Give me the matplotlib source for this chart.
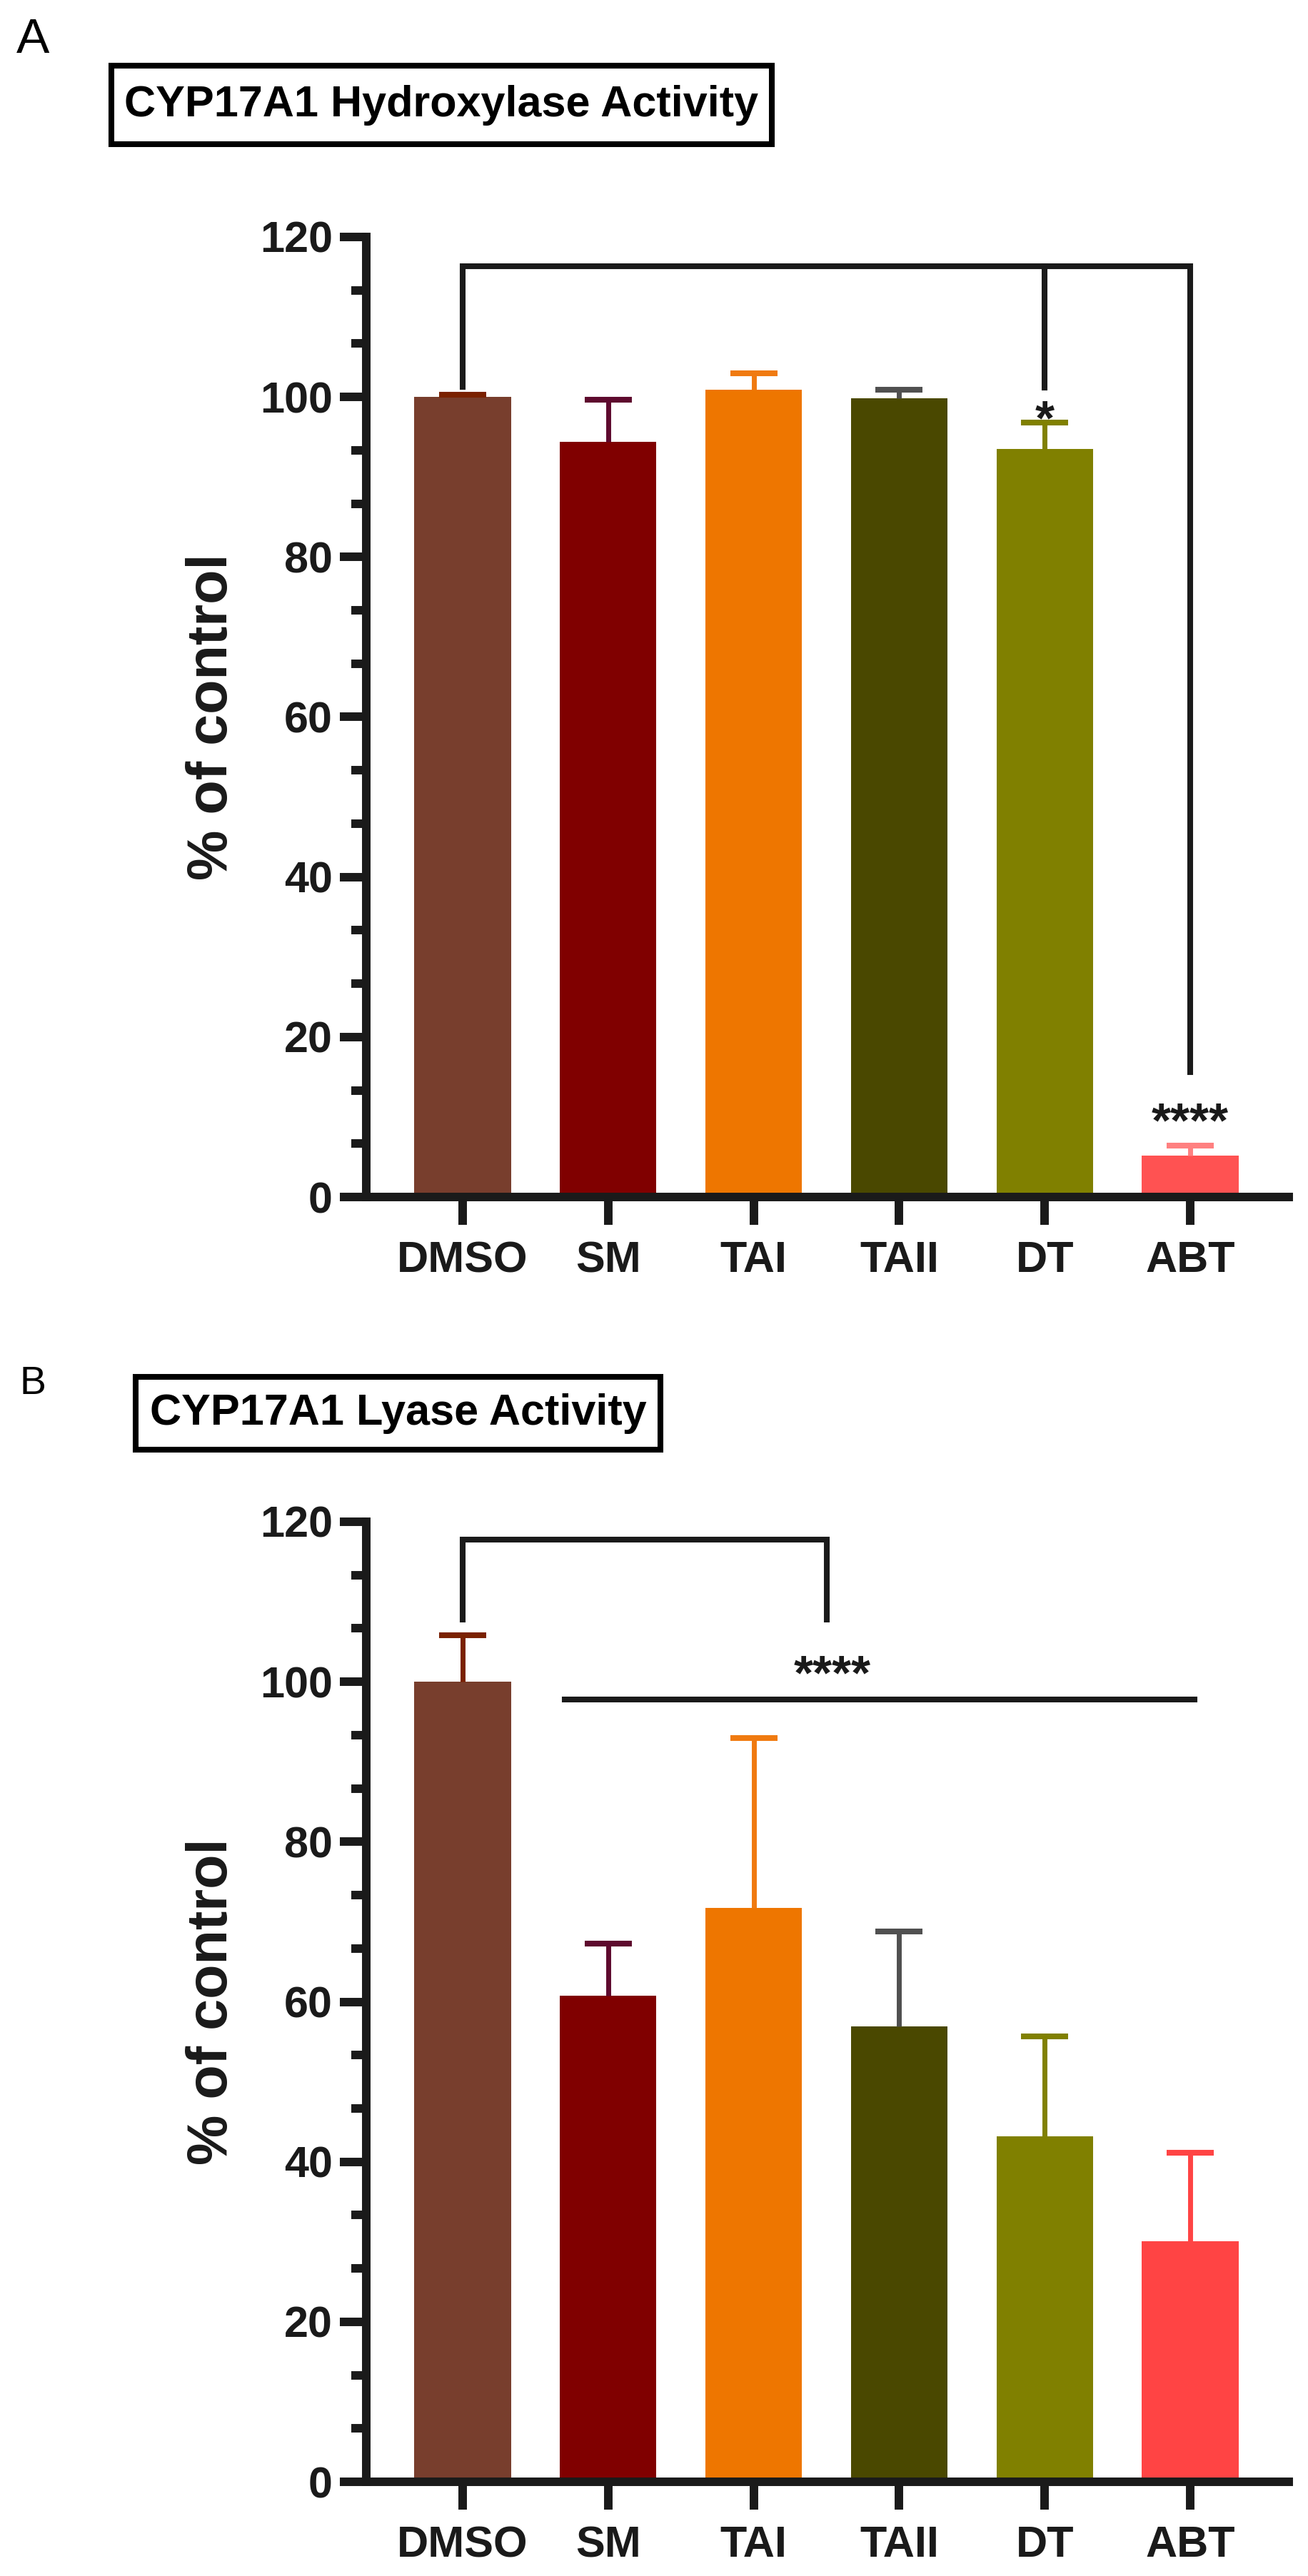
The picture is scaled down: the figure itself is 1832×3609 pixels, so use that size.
import matplotlib
matplotlib.use("Agg")
import matplotlib.pyplot as plt
from matplotlib.patches import Rectangle
from matplotlib.ticker import MultipleLocator, FixedLocator

plt.rcParams['font.family'] = ['Liberation Sans', 'DejaVu Sans']

# ---- data ----
groups = ["DMSO", "SM", "TAI", "TAII", "DT", "ABT"]

hydrox_mean = [100.0, 94.4, 100.9, 99.8, 93.5, 5.15]
hydrox_top = [100.3, 99.7, 103.0, 100.9, 96.8, 6.4]     # mean + error

lyase_mean = [100.0, 60.8, 71.7, 56.9, 43.2, 30.1]
lyase_top = [105.8, 67.3, 93.0, 68.8, 55.7, 41.1]

bar_cols_a = ["#783E2D", "#800000", "#EE7600", "#4A4800", "#808000", "#FF5252"]
err_cols_a = ["#7A2100", "#5E0A2E", "#F07A10", "#505050", "#808000", "#FF8080"]
bar_cols_b = ["#783E2D", "#800000", "#EE7600", "#4A4800", "#808000", "#FF4444"]
err_cols_b = ["#7A2100", "#5E0A2E", "#F07A10", "#505050", "#808000", "#FF4444"]

INK = "#1a1a1a"
W, H = 1833, 3609


def fx(px):
    return px / W


def fy(py):
    return 1 - py / H


def make_axes(fig, top_px, bottom_px):
    left, right = 513, 1805
    ax = fig.add_axes([fx(left), fy(bottom_px), (right - left) / W, (bottom_px - top_px) / H])
    return ax


def bar_panel(ax, means, tops, bcols, ecols):
    x = list(range(len(groups)))
    ax.bar(x, means, width=0.663, color=bcols, zorder=1)
    for i in x:
        _, caps, _ = ax.errorbar(i, means[i], yerr=[[0], [tops[i] - means[i]]], fmt='none',
                                 ecolor=ecols[i], elinewidth=5, capsize=24, capthick=5.8,
                                 zorder=2)
        caps[0].set_visible(False)   # only the upper cap is shown
    ax.set_xlim(-0.6624, 5.677)
    ax.set_ylim(0, 120)
    for s in ["top", "right"]:
        ax.spines[s].set_visible(False)
    for s in ["left", "bottom"]:
        ax.spines[s].set_linewidth(8.6)
        ax.spines[s].set_color(INK)
        ax.spines[s].set_zorder(3)
    ax.set_xticks(x)
    ax.set_xticklabels(groups)
    ax.yaxis.set_major_locator(MultipleLocator(20))
    ax.yaxis.set_minor_locator(FixedLocator([k * 20 / 3 for k in range(19) if k % 3]))
    ax.tick_params(axis='y', which='major', length=26.6, width=8.6, pad=7.5,
                   labelsize=44, color=INK, labelcolor=INK)
    ax.tick_params(axis='y', which='minor', length=15, width=8.6, color=INK)
    ax.tick_params(axis='x', which='major', length=28, width=8.6, pad=16,
                   labelsize=44, color=INK, labelcolor=INK)
    for lab in ax.get_xticklabels() + ax.get_yticklabels():
        lab.set_fontweight('bold')
    ax.text(-0.167, 0.5, "% of control", transform=ax.transAxes, rotation=90,
            ha='center', va='center', fontsize=57, fontweight='bold', color=INK)


def stars(ax, x, y, s):
    # y is the vertical centre of the asterisks
    ax.annotate(s, (x, y), xytext=(0, -0.57 * 50), textcoords='offset points',
                ha='center', va='baseline', fontsize=50, fontweight='bold',
                color=INK, annotation_clip=False)


def bracket(ax, xs, ys):
    ax.plot(xs, ys, color=INK, lw=5.8, solid_capstyle='projecting',
            solid_joinstyle='miter', clip_on=False, zorder=4)


def title_box(fig, x0, y0, x1, y1, text):
    fig.patches.append(Rectangle((fx(x0), fy(y1)), (x1 - x0) / W, (y1 - y0) / H,
                                 transform=fig.transFigure, fill=False,
                                 edgecolor="black", linewidth=5.8))
    fig.text(fx((x0 + x1) / 2), fy((y0 + y1) / 2), text, ha='center', va='center',
             fontsize=44, fontweight='bold', color="black")


fig = plt.figure(figsize=(W / 100, H / 100), dpi=100)

# ---------- panel A ----------
fig.text(fx(23), fy(74), "A", ha='left', va='baseline', fontsize=50, color="black")
title_box(fig, 156, 92, 1081, 202, "CYP17A1 Hydroxylase Activity")
axA = make_axes(fig, 332, 1677)
bar_panel(axA, hydrox_mean, hydrox_top, bar_cols_a, err_cols_a)
bracket(axA, [0, 0, 5, 5], [101.3, 116.3, 116.3, 15.6])
bracket(axA, [4, 4], [116.3, 101.2])
stars(axA, 4, 98.9, "*")
stars(axA, 5, 11.1, "****")

# ---------- panel B ----------
fig.text(fx(28), fy(1953), "B", ha='left', va='baseline', fontsize=40, color="black")
title_box(fig, 190, 1929, 925, 2031, "CYP17A1 Lyase Activity")
axB = make_axes(fig, 2132, 3477)
bar_panel(axB, lyase_mean, lyase_top, bar_cols_b, err_cols_b)
bracket(axB, [0, 0, 2.5, 2.5], [107.8, 117.8, 117.8, 107.8])
bracket(axB, [0.7, 5.03], [97.8, 97.8])
stars(axB, 2.54, 102.6, "****")

fig.savefig("out.png", dpi=100, facecolor="white")
